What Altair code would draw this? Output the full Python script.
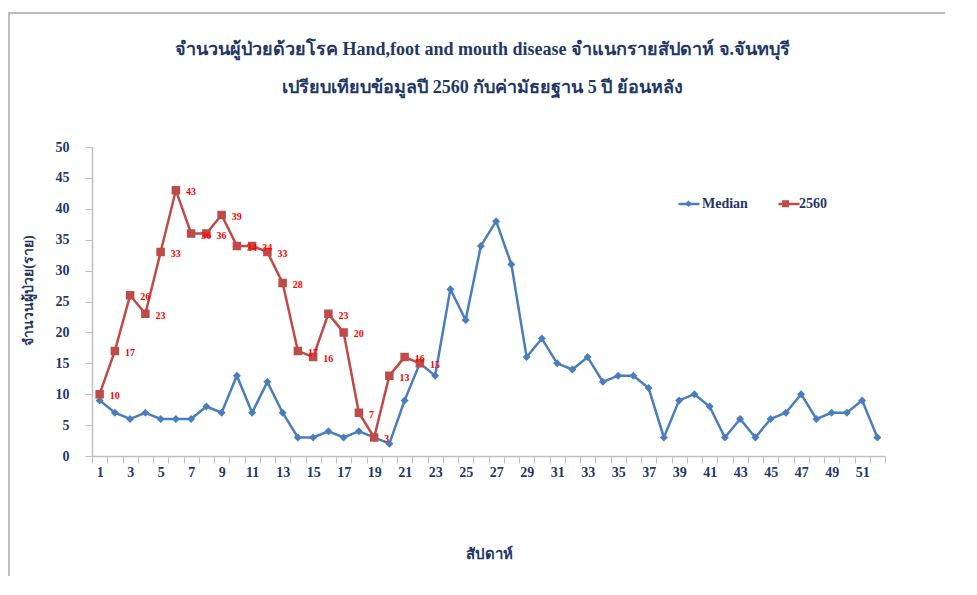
import altair as alt
import pandas as pd

# ---------------- data ----------------
weeks = list(range(1, 53))
median_cases = [9, 7, 6, 7, 6, 6, 6, 8, 7, 13, 7, 12, 7, 3, 3, 4, 3, 4, 3, 2,
                9, 15, 13, 27, 22, 34, 38, 31, 16, 19, 15, 14, 16, 12, 13, 13,
                11, 3, 9, 10, 8, 3, 6, 3, 6, 7, 10, 6, 7, 7, 9, 3]
cases_2560 = [10, 17, 26, 23, 33, 43, 36, 36, 39, 34, 34, 33, 28, 17, 16, 23,
              20, 7, 3, 13, 16, 15]
series_names = ["Median", "2560"]
title_lines = ["จำนวนผู้ป่วยด้วยโรค  Hand,foot and mouth disease  จำแนกรายสัปดาห์   จ.จันทบุรี",
               "เปรียบเทียบข้อมูลปี  2560  กับค่ามัธยฐาน 5 ปี ย้อนหลัง"]
y_title = "จำนวนผู้ป่วย(ราย)"
x_title = "สัปดาห์"
y_ticks = list(range(0, 51, 5))

rows = []
for w, v in zip(weeks, median_cases):
    rows.append({"week": w, "series": "Median", "cases": v})
for w, v in zip(weeks, cases_2560):
    rows.append({"week": w, "series": "2560", "cases": v})
df = pd.DataFrame(rows)
# line layer uses its own key (trailing space) so its legend is kept separate
df["line_series"] = df["series"] + " "

BLUE = "#4A7EBB"
RED = "#BE4B48"
NAVY = "#1F3864"
AXIS_GRAY = "#BFBFBF"
FONT = "Liberation Serif"

color_scale = alt.Scale(domain=series_names, range=[BLUE, RED])
line_color_scale = alt.Scale(domain=[s + " " for s in series_names], range=[BLUE, RED])

x_enc = alt.X(
    "week:O",
    sort="ascending",
    scale=alt.Scale(type="band", paddingInner=0, paddingOuter=0),
    axis=alt.Axis(
        tickBand="extent",
        labelExpr="datum.value % 2 == 1 ? datum.label : ''",
        labelAngle=0,
        tickSize=7,
        tickColor=AXIS_GRAY,
        domainColor=AXIS_GRAY,
        domainWidth=1.5,
        grid=False,
        labelOverlap=False,
        labelFont=FONT,
        labelFontSize=14,
        labelFontWeight="bold",
        labelColor=NAVY,
        labelPadding=2,
        title=x_title,
        titleFont=FONT,
        titleFontSize=15,
        titleFontWeight="bold",
        titleColor=NAVY,
        titlePadding=67,
    ),
)

y_enc = alt.Y(
    "cases:Q",
    scale=alt.Scale(domain=[0, 50], nice=False),
    axis=alt.Axis(
        values=y_ticks,
        tickSize=7,
        tickColor=AXIS_GRAY,
        domainColor=AXIS_GRAY,
        domainWidth=1.5,
        grid=False,
        labelOverlap=False,
        labelFont=FONT,
        labelFontSize=14,
        labelFontWeight="bold",
        labelColor=NAVY,
        labelPadding=16,
        title=y_title,
        titleFont=FONT,
        titleFontSize=14,
        titleFontWeight="bold",
        titleColor=NAVY,
        titlePadding=20,
        titleY=143,
    ),
)

LEG_X, LEG_Y = 585, 45
SYM = 441


def legend_params(**extra):
    return alt.Legend(
        orient="none", legendX=LEG_X, legendY=LEG_Y, direction="horizontal",
        symbolSize=SYM, labelFont=FONT, labelFontSize=14, labelFontWeight="bold",
        labelColor=NAVY, labelOffset=2, columnPadding=24, padding=0,
        symbolOpacity=1, labelExpr="trim(datum.label)", **extra,
    )


base = alt.Chart(df)

lines = base.mark_line(strokeWidth=2.5).encode(
    x=x_enc, y=y_enc,
    color=alt.Color("line_series:N", scale=line_color_scale, title="",
                    legend=legend_params(symbolType="stroke", symbolStrokeWidth=2.5,
                                         labelOpacity=0)),
    detail="series:N",
)

# marker paths; the zero-area "M-1,0H1" part only widens the legend symbol box
diamond_path = "M-1,0H1M-0.32,0L0,-0.32L0.32,0L0,0.32Z"
square_path = "M-1,0H1M-0.34,-0.34H0.34V0.34H-0.34Z"

points = base.mark_point(filled=True, opacity=1, size=625, strokeWidth=0).encode(
    x=x_enc, y=y_enc,
    fill=alt.Fill("series:N", scale=color_scale, title="", legend=legend_params()),
    shape=alt.Shape("series:N", title="",
                    scale=alt.Scale(domain=series_names, range=[diamond_path, square_path]),
                    legend=legend_params()),
)

labels_2560 = base.transform_filter(alt.datum.series == "2560").mark_text(
    align="left", baseline="middle", dx=10, dy=2, font=FONT, fontSize=10,
    fontWeight="bold", color="#FF0000"
).encode(x=x_enc, y=y_enc, text="cases:Q")

frame_df = pd.DataFrame({"k": [0]})
border = alt.Chart(frame_df).mark_rule(color="#BBBBBB", strokeWidth=2).encode(
    x=alt.value(-84), x2=alt.value(900), y=alt.value(-134)
) + alt.Chart(frame_df).mark_rule(color="#BBBBBB", strokeWidth=2).encode(
    x=alt.value(-83), y=alt.value(-134), y2=alt.value(460)
)

chart = alt.layer(
    lines, points, labels_2560, border
).properties(
    width=793,
    height=309,
    autosize=alt.AutoSizeParams(type="none"),
    padding={"left": 84, "top": 139, "right": 60, "bottom": 120},
    title=alt.TitleParams(
        text=title_lines, font=FONT, fontSize=18, fontWeight="bold", color=NAVY,
        anchor="middle", dx=-6, offset=-85, lineHeight=38,
    ),
).configure_view(stroke=None)

chart.save("out.html", embed_options={"renderer": "svg", "actions": False})
